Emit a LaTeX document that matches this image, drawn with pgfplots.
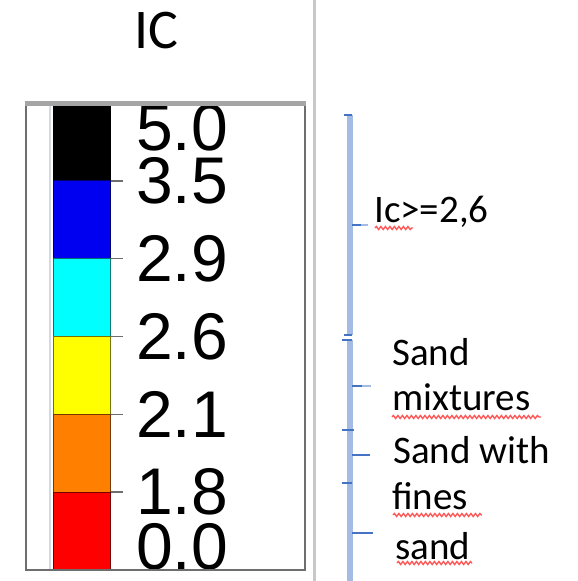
\documentclass[border=0pt]{standalone}
\usepackage{pgfplots}
\pgfplotsset{compat=1.18}
\usepackage{fontspec}
\setmainfont{Carlito}
\newfontfamily\arialf{Liberation Sans}
\usetikzlibrary{decorations.pathmorphing}
\definecolor{cbred}{RGB}{255,0,0}
\definecolor{cborange}{RGB}{255,128,0}
\definecolor{cbyellow}{RGB}{255,255,0}
\definecolor{cbcyan}{RGB}{0,255,255}
\definecolor{cbblue}{RGB}{0,0,240}
\definecolor{cbblack}{RGB}{0,0,0}
\definecolor{tickgray}{RGB}{110,110,110}
\definecolor{boxgray}{RGB}{110,110,110}
\definecolor{topgray}{RGB}{165,165,165}
\definecolor{sepgray}{RGB}{200,200,200}
\definecolor{lightline}{RGB}{210,218,228}
\definecolor{brlight}{RGB}{164,188,228}
\definecolor{brdark}{RGB}{68,114,196}
\definecolor{spellred}{RGB}{255,90,90}
\begin{document}
\begin{tikzpicture}
\useasboundingbox (0,0) rectangle (578pt,581pt);
% colour bar
\begin{axis}[
  at={(53pt,11pt)}, anchor=south west,
  scale only axis, width=57pt, height=467pt,
  xmin=-0.5, xmax=0.5, ymin=0, ymax=6,
  ybar stacked, bar width=57pt, bar shift=0pt,
  axis x line=none, axis y line*=right,
  axis line style={draw=none},
  ytick={1,2,3,4,5}, yticklabels={1.8,2.1,2.6,2.9,3.5},
  extra y ticks={0.30,5.68}, extra y tick labels={0.0,5.0},
  extra y tick style={major tick style={draw=none}},
  ytick align=outside, major tick length=13pt,
  tick style={color=tickgray, line width=1.5pt},
  yticklabel style={font=\arialf\fontsize{66}{66}\selectfont, anchor=west, inner sep=0pt, xshift=13pt},
  clip=false,
]
\addplot[fill=cbred, draw=cbred!45!black, line width=1pt] coordinates {(0,1)};
\addplot[fill=cborange, draw=cborange!45!black, line width=1pt] coordinates {(0,1)};
\addplot[fill=cbyellow, draw=cbyellow!45!black, line width=1pt] coordinates {(0,1)};
\addplot[fill=cbcyan, draw=cbcyan!45!black, line width=1pt] coordinates {(0,1)};
\addplot[fill=cbblue, draw=cbblue!45!black, line width=1pt] coordinates {(0,1)};
\addplot[fill=cbblack, draw=black, line width=1pt] coordinates {(0,1)};
\end{axis}
% frame and annotations
\begin{axis}[
  at={(0pt,0pt)}, anchor=south west,
  scale only axis, width=578pt, height=581pt,
  xmin=0, xmax=578, ymin=0, ymax=581, y dir=reverse,
  hide axis, clip=false,
]
\node[anchor=base west, inner sep=0pt, font=\fontsize{56}{56}\selectfont] at (axis cs:134,48) {IC};
\draw[sepgray, line width=3.5pt] (axis cs:314.5,0) -- (axis cs:314.5,581);
\draw[lightline, line width=2pt] (axis cs:50,103) -- (axis cs:50,570);
\draw[boxgray, line width=2.5pt] (axis cs:26,103) -- (axis cs:26,570) -- (axis cs:305,570) -- (axis cs:305,103);
\draw[topgray, line width=5pt] (axis cs:24.8,103.5) -- (axis cs:306.2,103.5);
% brackets
\draw[brlight, line width=5.5pt] (axis cs:350,115) -- (axis cs:350,335);
\draw[brlight, line width=5.5pt] (axis cs:350,340) -- (axis cs:350,430);
\draw[brlight, line width=5.5pt] (axis cs:350,430) -- (axis cs:350,483);
\draw[brlight, line width=5.5pt] (axis cs:350,483) -- (axis cs:350,581);
\draw[brdark, line width=2.5pt] (axis cs:344,115) -- (axis cs:352,115);
\draw[brdark, line width=2.5pt] (axis cs:344,335) -- (axis cs:352,335);
\draw[brdark, line width=2.5pt] (axis cs:342,340) -- (axis cs:352,340);
\draw[brdark, line width=2.5pt] (axis cs:342,430) -- (axis cs:354,430);
\draw[brdark, line width=2.5pt] (axis cs:342,483) -- (axis cs:352,483);
\draw[brdark, line width=2.5pt] (axis cs:352,225) -- (axis cs:361,225);
\draw[brlight, line width=2.5pt] (axis cs:361,225) -- (axis cs:368,225);
\draw[brdark, line width=2.5pt] (axis cs:352,386) -- (axis cs:362,386);
\draw[brlight, line width=2.5pt] (axis cs:362,386) -- (axis cs:371,386);
\draw[brdark, line width=1.8pt] (axis cs:352,455) -- (axis cs:370,455);
\draw[brdark, line width=2.5pt] (axis cs:352,533) -- (axis cs:373,533);
% labels
\begin{scope}[every node/.style={anchor=base west, inner sep=0pt, font=\fontsize{39}{39}\selectfont}]
\node at (axis cs:374,222) {Ic>=2,6};
\node at (axis cs:392,365) {Sand};
\node at (axis cs:392,410) {mixtures};
\node at (axis cs:393,463) {Sand with};
\node at (axis cs:392,509) {fines};
\node at (axis cs:395,559) {sand};
\end{scope}
\begin{scope}[spellred, line width=1.4pt, decoration={snake, amplitude=1.5pt, segment length=4.5pt}]
\draw[decorate] (axis cs:375,228) -- (axis cs:413,228);
\draw[decorate] (axis cs:392,417) -- (axis cs:541,417);
\draw[decorate] (axis cs:393,515) -- (axis cs:482,515);
\draw[decorate] (axis cs:397,563) -- (axis cs:472,563);
\end{scope}
\end{axis}
\end{tikzpicture}
\end{document}
